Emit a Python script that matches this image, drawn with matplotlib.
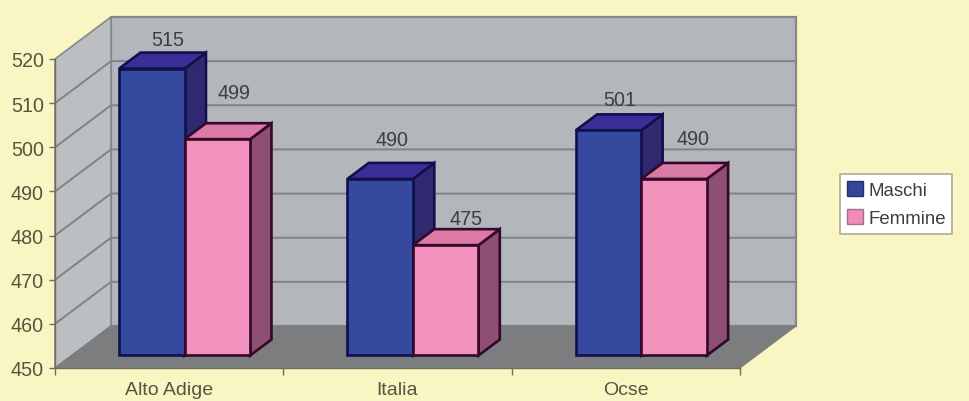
import matplotlib
matplotlib.use("Agg")
import matplotlib.pyplot as plt
from matplotlib.patches import Polygon, Patch

categories = ["Alto Adige", "Italia", "Ocse"]
maschi = [515, 490, 501]
femmine = [499, 475, 490]
y_ticks = [450, 460, 470, 480, 490, 500, 510, 520]
# label nudges in pixels, relative to the front-top centre of each bar
maschi_nudge = [(16, 29), (12, 39), (11, 31)]
femmine_nudge = [(17, 47), (20, 27), (19, 40)]

W, H = 969, 402
BG = "#FAF6C4"
WALL = "#B3B7BB"
SIDE = "#BBBFC1"
FLOOR = "#7B7D7F"
FRAME = "#85888A"
GRID = "#7F8387"
TICK = "#6E6E58"
TEXT_AXIS = "#55553F"
TEXT_VAL = "#3E3E3A"

plt.rcParams["font.family"] = ["Liberation Sans", "DejaVu Sans"]

fig = plt.figure(figsize=(W / 100, H / 100), dpi=100, facecolor=BG)
# the axes rectangle is the front plane of the 3D box
ax = fig.add_axes([55 / W, (H - 369) / H, 685 / W, 309 / H])
ax.set_xlim(0, 3)
ax.set_ylim(450, 520)
ax.patch.set_visible(False)
for s in ax.spines.values():
    s.set_visible(False)

UX = 3 / 685        # data units per pixel, horizontal
UY = 70 / 309       # data units per pixel, vertical
DX = 56 * UX        # full box depth
DY = 42 * UY


def pt(x, v, d=0.0):
    """Oblique projection of a point lying at relative depth d."""
    return (x + d * DX, v + d * DY)


def poly(points, **kw):
    kw.setdefault("clip_on", False)
    ax.add_patch(Polygon(points, closed=True, **kw))


ymin, ymax = y_ticks[0], y_ticks[-1]

# back wall, side wall and floor
poly([pt(0, ymin, 1), pt(3, ymin, 1), pt(3, ymax, 1), pt(0, ymax, 1)],
     fc=WALL, ec=FRAME, lw=1.6, zorder=1)
poly([pt(0, ymin, 0), pt(0, ymin, 1), pt(0, ymax, 1), pt(0, ymax, 0)],
     fc=SIDE, ec=FRAME, lw=1.2, zorder=1)
for v in y_ticks[1:-1]:
    xs, ys = zip(pt(0, v, 0), pt(0, v, 1), pt(3, v, 1))
    ax.plot(xs, ys, color=GRID, lw=1.4, zorder=2, clip_on=False, solid_joinstyle="miter")
poly([pt(0, ymin, 0), pt(3, ymin, 0), pt(3, ymin, 1), pt(0, ymin, 1)],
     fc=FLOOR, ec=FLOOR, lw=0.8, zorder=3)

# axis lines, ticks and tick labels
ax.plot([0, 0], [ymin, ymax], color=TICK, lw=1.0, zorder=4, clip_on=False)
ax.plot([0, 3], [ymin, ymin], color=TICK, lw=1.0, zorder=4, clip_on=False)
ax.set_yticks(y_ticks)
ax.set_xticks([0, 1, 2, 3])
ax.set_xticklabels([])
ax.tick_params(axis="y", length=4, width=1, color=TICK, labelcolor=TEXT_AXIS,
               labelsize=14.2, pad=4)
ax.tick_params(axis="x", length=5, width=1, color=TICK)
for i, name in enumerate(categories):
    ax.annotate(name, (i + 0.5, ymin), xytext=(0, -22), textcoords="offset pixels",
                ha="center", va="center", fontsize=14, color=TEXT_AXIS)

BAR_W = 65.5 * UX
BAR_SHIFT = -1.2 * UX
D0, D1 = 12.5 / 42, 28.5 / 42   # bars occupy this depth range


def bar3d(x0, value, front, top, side, edge, z):
    x1 = x0 + BAR_W
    style = dict(ec=edge, lw=1.9, joinstyle="miter", zorder=z)
    poly([pt(x1, ymin, D0), pt(x1, ymin, D1), pt(x1, value, D1), pt(x1, value, D0)],
         fc=side, **style)
    poly([pt(x0, value, D0), pt(x1, value, D0), pt(x1, value, D1), pt(x0, value, D1)],
         fc=top, **style)
    poly([pt(x0, ymin, D0), pt(x1, ymin, D0), pt(x1, value, D0), pt(x0, value, D0)],
         fc=front, **style)


BLUE = dict(front="#35499E", top="#3A2F96", side="#2F2A70", edge="#10104E")
PINK = dict(front="#F291BC", top="#DC7AA6", side="#8E5072", edge="#33082A")

for i in range(len(categories)):
    x_left = i + 0.5 - BAR_W + BAR_SHIFT
    bar3d(x_left, maschi[i], z=5 + 2 * i, **BLUE)
    bar3d(x_left + BAR_W, femmine[i], z=6 + 2 * i, **PINK)
    for x0, val, nudge in ((x_left, maschi[i], maschi_nudge[i]),
                           (x_left + BAR_W, femmine[i], femmine_nudge[i])):
        ax.annotate(str(val), pt(x0 + BAR_W / 2, val, D0), xytext=nudge,
                    textcoords="offset pixels", ha="center", va="center",
                    fontsize=14.2, color=TEXT_VAL, zorder=20, annotation_clip=False)

legend = fig.legend(
    handles=[Patch(fc="#34459C", ec="#22306F", label="Maschi"),
             Patch(fc="#F08CB6", ec="#A0708A", label="Femmine")],
    loc="upper left", bbox_to_anchor=(840 / W, (H - 175) / H),
    bbox_transform=fig.transFigure, fontsize=13.4, labelcolor=TEXT_VAL,
    frameon=True, fancybox=False, framealpha=1, facecolor="#FFFFFF",
    edgecolor="#B9B79A", borderaxespad=0, borderpad=0.36, labelspacing=0.56,
    handlelength=0.85, handleheight=0.85, handletextpad=0.3)
legend.get_frame().set_linewidth(1.4)

fig.savefig("out.png", dpi=100, facecolor=BG)
